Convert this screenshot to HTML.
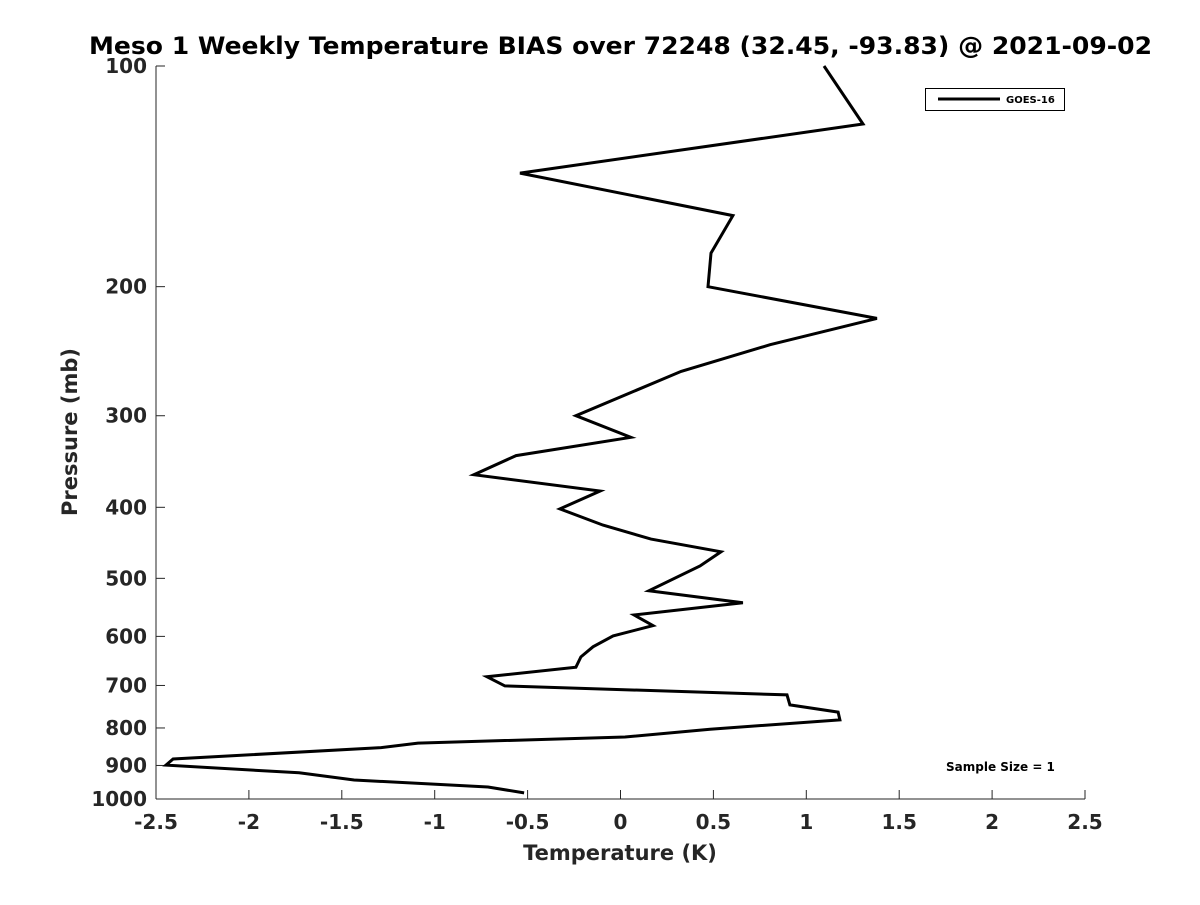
<!DOCTYPE html>
<html><head><meta charset="utf-8"><style>
body{margin:0;background:#fff;}
text{font-family:"DejaVu Sans","Liberation Sans",sans-serif;font-weight:bold;fill:#262626;}
</style></head><body>
<svg id="chart" width="1200" height="900" xmlns="http://www.w3.org/2000/svg">
<rect width="1200" height="900" fill="#fff"/>
<text x="89" y="54" textLength="1063" lengthAdjust="spacingAndGlyphs" font-size="24" style="fill:#000">Meso 1 Weekly Temperature BIAS over 72248 (32.45, -93.83) @ 2021-09-02</text>
<g id="axes"></g>
<path id="line" fill="none" stroke="#000" stroke-width="3" stroke-linejoin="miter"/>
<g>
<rect x="925.5" y="88.5" width="139" height="22" fill="#fff" stroke="#000" stroke-width="1"/>
<line x1="938" y1="99" x2="1000" y2="99" stroke="#000" stroke-width="3"/>
<text x="1006" y="103" font-size="10" style="fill:#000">GOES-16</text>
</g>
<text x="946" y="771" font-size="12" style="fill:#000">Sample Size = 1</text>
<text x="620" y="860" text-anchor="middle" font-size="21">Temperature (K)</text>
<text transform="translate(77,432) rotate(-90)" text-anchor="middle" font-size="21">Pressure (mb)</text>
</svg>
<script>
const bias=[1.095,1.305,-0.541,0.605,0.487,0.471,1.380,0.805,0.326,-0.240,0.056,-0.562,-0.789,-0.110,-0.326,-0.094,0.164,0.541,0.428,0.153,0.659,0.073,0.175,-0.040,-0.148,-0.213,-0.240,-0.719,-0.622,0.896,0.912,1.171,1.181,0.482,0.024,-1.090,-1.289,-2.408,-2.446,-1.730,-1.434,-0.713,-0.519];
const pressure=[100,120,140,160,180,200,221,240,261,300,321,340,361,380,402,423,442,460,481,520,540,561,580,599,620,640,661,681,701,721,744,761,780,803,823,839,851,882,899,921,942,963,981];
const xTicks=[-2.5,-2,-1.5,-1,-0.5,0,0.5,1,1.5,2,2.5];
const yTicks=[100,200,300,400,500,600,700,800,900,1000];
const X0=156,X1=1085,Y0=66,Y1=799;
function xs(v){return X0+(v+2.5)/5*(X1-X0);}
function ys(p){return Y0+(Math.log10(p)-2)*(Y1-Y0);}
const ns="http://www.w3.org/2000/svg";
const ax=document.getElementById('axes');
function mk(t,a){const e=document.createElementNS(ns,t);for(const k in a)e.setAttribute(k,a[k]);ax.appendChild(e);return e;}
let e=mk('line',{x1:X0,y1:Y0,x2:X0,y2:Y1,stroke:'#262626','stroke-width':1});


e=mk('line',{x1:X0,y1:Y1,x2:X1,y2:Y1,stroke:'#262626','stroke-width':1});


xTicks.forEach(v=>{const x=xs(v);
 mk('line',{x1:x,y1:Y1,x2:x,y2:Y1-9,stroke:'#262626'});
 const t=mk('text',{x:x,y:Y1+30,'text-anchor':'middle','font-size':20});t.textContent=String(v);
 
 });
yTicks.forEach(p=>{const y=ys(p);
 mk('line',{x1:X0,y1:y,x2:X0+9,y2:y,stroke:'#262626'});
 const t=mk('text',{x:X0-9,y:y+7,'text-anchor':'end','font-size':20});t.textContent=String(p);
 
 });
document.getElementById('line').setAttribute('d',bias.map((b,i)=>(i?'L':'M')+xs(b).toFixed(1)+','+ys(pressure[i]).toFixed(1)).join(' '));
</script>
</body></html>
